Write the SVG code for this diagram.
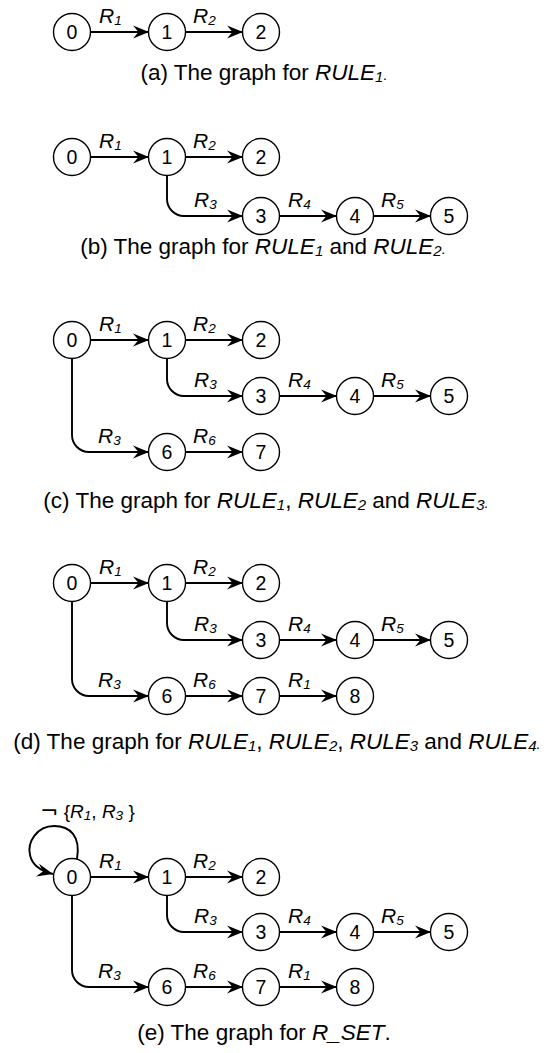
<svg xmlns="http://www.w3.org/2000/svg" width="553" height="1053" viewBox="0 0 553 1053">
<style>
.n circle{fill:#fff;stroke:#000;stroke-width:1.4}
.n text{font-family:"Liberation Sans",Arial,sans-serif;font-size:19.5px;text-anchor:middle}
.e{fill:none;stroke:#000;stroke-width:1.9;marker-end:url(#ah)}
.l{font-family:"Liberation Sans",Arial,sans-serif;font-size:21px;font-style:italic}
.s{font-size:13.5px}
.cap{font-family:"Liberation Sans",Arial,sans-serif;font-size:22.5px;text-anchor:middle}
.i{font-style:italic}
.cs{font-size:15px;font-style:italic}
</style>
<defs>
<marker id="ah" viewBox="-17 -7 18 14" refX="0" refY="0" markerWidth="18" markerHeight="14" markerUnits="userSpaceOnUse" orient="auto">
<path d="M0,0 L-16,-6.5 L-10.5,0 L-16,6.5 Z" fill="#000"/>
</marker>
</defs>

<!-- (a) -->
<g id="fig-a">
<g id="connectors-a">
<path class="e" d="M90,32 H149"/>
<path class="e" d="M185,32 H243"/>
<text class="l" x="99" y="23">R<tspan class="s" dy="2">1</tspan></text>
<text class="l" x="193" y="23">R<tspan class="s" dy="2">2</tspan></text>
</g>
<g id="a0" class="n"><circle cx="72" cy="32" r="18.5"/><text x="72" y="39">0</text></g>
<g id="a1" class="n"><circle cx="167" cy="32" r="18.5"/><text x="167" y="39">1</text></g>
<g id="a2" class="n"><circle cx="261" cy="32" r="18.5"/><text x="261" y="39">2</text></g>
<text class="cap" x="264" y="80">(a) The graph for <tspan class="i">RULE</tspan><tspan class="cs" dy="2">1</tspan><tspan class="cs" dy="-2">.</tspan></text>
</g>

<!-- (b) -->
<g id="fig-b">
<g id="connectors-b">
<path class="e" d="M90,157 H149"/>
<path class="e" d="M185,157 H243"/>
<path class="e" d="M167,175 V199 A17,17 0 0 0 184,216 H243"/>
<path class="e" d="M279,216 H337"/>
<path class="e" d="M373,216 H431"/>
<text class="l" x="99" y="148">R<tspan class="s" dy="2">1</tspan></text>
<text class="l" x="193" y="148">R<tspan class="s" dy="2">2</tspan></text>
<text class="l" x="194" y="207">R<tspan class="s" dy="2">3</tspan></text>
<text class="l" x="288" y="207">R<tspan class="s" dy="2">4</tspan></text>
<text class="l" x="381" y="207">R<tspan class="s" dy="2">5</tspan></text>
</g>
<g id="b0" class="n"><circle cx="72" cy="157" r="18.5"/><text x="72" y="164">0</text></g>
<g id="b1" class="n"><circle cx="167" cy="157" r="18.5"/><text x="167" y="164">1</text></g>
<g id="b2" class="n"><circle cx="261" cy="157" r="18.5"/><text x="261" y="164">2</text></g>
<g id="b3" class="n"><circle cx="261" cy="216" r="18.5"/><text x="261" y="223">3</text></g>
<g id="b4" class="n"><circle cx="355" cy="216" r="18.5"/><text x="355" y="223">4</text></g>
<g id="b5" class="n"><circle cx="449" cy="216" r="18.5"/><text x="449" y="223">5</text></g>
<text class="cap" x="263" y="254">(b) The graph for <tspan class="i">RULE</tspan><tspan class="cs" dy="2">1</tspan><tspan dy="-2"> and </tspan><tspan class="i">RULE</tspan><tspan class="cs" dy="2">2</tspan><tspan class="cs" dy="-2">.</tspan></text>
</g>

<!-- (c) -->
<g id="fig-c">
<g id="connectors-c">
<path class="e" d="M90,340 H149"/>
<path class="e" d="M185,340 H243"/>
<path class="e" d="M167,358 V379 A17,17 0 0 0 184,396 H243"/>
<path class="e" d="M279,396 H337"/>
<path class="e" d="M373,396 H431"/>
<path class="e" d="M72,358 V435 A17,17 0 0 0 89,452 H149"/>
<path class="e" d="M185,452 H243"/>
<text class="l" x="99" y="331">R<tspan class="s" dy="2">1</tspan></text>
<text class="l" x="193" y="331">R<tspan class="s" dy="2">2</tspan></text>
<text class="l" x="194" y="387">R<tspan class="s" dy="2">3</tspan></text>
<text class="l" x="288" y="387">R<tspan class="s" dy="2">4</tspan></text>
<text class="l" x="381" y="387">R<tspan class="s" dy="2">5</tspan></text>
<text class="l" x="98" y="443">R<tspan class="s" dy="2">3</tspan></text>
<text class="l" x="193" y="443">R<tspan class="s" dy="2">6</tspan></text>
</g>
<g id="c0" class="n"><circle cx="72" cy="340" r="18.5"/><text x="72" y="347">0</text></g>
<g id="c1" class="n"><circle cx="167" cy="340" r="18.5"/><text x="167" y="347">1</text></g>
<g id="c2" class="n"><circle cx="261" cy="340" r="18.5"/><text x="261" y="347">2</text></g>
<g id="c3" class="n"><circle cx="261" cy="396" r="18.5"/><text x="261" y="403">3</text></g>
<g id="c4" class="n"><circle cx="355" cy="396" r="18.5"/><text x="355" y="403">4</text></g>
<g id="c5" class="n"><circle cx="449" cy="396" r="18.5"/><text x="449" y="403">5</text></g>
<g id="c6" class="n"><circle cx="167" cy="452" r="18.5"/><text x="167" y="459">6</text></g>
<g id="c7" class="n"><circle cx="261" cy="452" r="18.5"/><text x="261" y="459">7</text></g>
<text class="cap" x="266" y="508">(c) The graph for <tspan class="i">RULE</tspan><tspan class="cs" dy="2">1</tspan><tspan dy="-2">, </tspan><tspan class="i">RULE</tspan><tspan class="cs" dy="2">2</tspan><tspan dy="-2"> and </tspan><tspan class="i">RULE</tspan><tspan class="cs" dy="2">3</tspan><tspan class="cs" dy="-2">.</tspan></text>
</g>

<!-- (d) -->
<g id="fig-d">
<g id="connectors-d">
<path class="e" d="M90,583 H149"/>
<path class="e" d="M185,583 H243"/>
<path class="e" d="M167,601 V623 A17,17 0 0 0 184,640 H243"/>
<path class="e" d="M279,640 H337"/>
<path class="e" d="M373,640 H431"/>
<path class="e" d="M72,601 V679 A17,17 0 0 0 89,696 H149"/>
<path class="e" d="M185,696 H243"/>
<path class="e" d="M279,696 H337"/>
<text class="l" x="99" y="574">R<tspan class="s" dy="2">1</tspan></text>
<text class="l" x="193" y="574">R<tspan class="s" dy="2">2</tspan></text>
<text class="l" x="194" y="631">R<tspan class="s" dy="2">3</tspan></text>
<text class="l" x="288" y="631">R<tspan class="s" dy="2">4</tspan></text>
<text class="l" x="381" y="631">R<tspan class="s" dy="2">5</tspan></text>
<text class="l" x="98" y="687">R<tspan class="s" dy="2">3</tspan></text>
<text class="l" x="193" y="687">R<tspan class="s" dy="2">6</tspan></text>
<text class="l" x="288" y="687">R<tspan class="s" dy="2">1</tspan></text>
</g>
<g id="d0" class="n"><circle cx="72" cy="583" r="18.5"/><text x="72" y="590">0</text></g>
<g id="d1" class="n"><circle cx="167" cy="583" r="18.5"/><text x="167" y="590">1</text></g>
<g id="d2" class="n"><circle cx="261" cy="583" r="18.5"/><text x="261" y="590">2</text></g>
<g id="d3" class="n"><circle cx="261" cy="640" r="18.5"/><text x="261" y="647">3</text></g>
<g id="d4" class="n"><circle cx="355" cy="640" r="18.5"/><text x="355" y="647">4</text></g>
<g id="d5" class="n"><circle cx="449" cy="640" r="18.5"/><text x="449" y="647">5</text></g>
<g id="d6" class="n"><circle cx="167" cy="696" r="18.5"/><text x="167" y="703">6</text></g>
<g id="d7" class="n"><circle cx="261" cy="696" r="18.5"/><text x="261" y="703">7</text></g>
<g id="d8" class="n"><circle cx="355" cy="696" r="18.5"/><text x="355" y="703">8</text></g>
<text class="cap" x="277" y="749">(d) The graph for <tspan class="i">RULE</tspan><tspan class="cs" dy="2">1</tspan><tspan dy="-2">, </tspan><tspan class="i">RULE</tspan><tspan class="cs" dy="2">2</tspan><tspan dy="-2">, </tspan><tspan class="i">RULE</tspan><tspan class="cs" dy="2">3</tspan><tspan dy="-2"> and </tspan><tspan class="i">RULE</tspan><tspan class="cs" dy="2">4</tspan><tspan class="cs" dy="-2">.</tspan></text>
</g>

<!-- (e) -->
<g id="fig-e">
<g id="connectors-e">
<path class="e" d="M77,859 C81,836 70,826 54,826 C37,826 27,842 30,855 C32,865 41,871 53,874"/>
<path class="e" d="M90,877 H149"/>
<path class="e" d="M185,877 H243"/>
<path class="e" d="M167,895 V915 A17,17 0 0 0 184,932 H243"/>
<path class="e" d="M279,932 H337"/>
<path class="e" d="M373,932 H431"/>
<path class="e" d="M72,895 V970 A17,17 0 0 0 89,987 H149"/>
<path class="e" d="M185,987 H243"/>
<path class="e" d="M279,987 H337"/>
<text x="40" y="818" style="font-family:'Liberation Sans',Arial,sans-serif;font-size:19px"><tspan style="font-family:'DejaVu Sans',sans-serif;font-size:22px">¬</tspan> {<tspan class="i">R</tspan><tspan class="s i" dy="2">1</tspan><tspan dy="-2">, </tspan><tspan class="i">R</tspan><tspan class="s i" dy="2">3</tspan><tspan dy="-2"> }</tspan></text>
<text class="l" x="99" y="868">R<tspan class="s" dy="2">1</tspan></text>
<text class="l" x="193" y="868">R<tspan class="s" dy="2">2</tspan></text>
<text class="l" x="194" y="923">R<tspan class="s" dy="2">3</tspan></text>
<text class="l" x="288" y="923">R<tspan class="s" dy="2">4</tspan></text>
<text class="l" x="381" y="923">R<tspan class="s" dy="2">5</tspan></text>
<text class="l" x="98" y="978">R<tspan class="s" dy="2">3</tspan></text>
<text class="l" x="193" y="978">R<tspan class="s" dy="2">6</tspan></text>
<text class="l" x="288" y="978">R<tspan class="s" dy="2">1</tspan></text>
</g>
<g id="e0" class="n"><circle cx="72" cy="877" r="18.5"/><text x="72" y="884">0</text></g>
<g id="e1" class="n"><circle cx="167" cy="877" r="18.5"/><text x="167" y="884">1</text></g>
<g id="e2" class="n"><circle cx="261" cy="877" r="18.5"/><text x="261" y="884">2</text></g>
<g id="e3" class="n"><circle cx="261" cy="932" r="18.5"/><text x="261" y="939">3</text></g>
<g id="e4" class="n"><circle cx="355" cy="932" r="18.5"/><text x="355" y="939">4</text></g>
<g id="e5" class="n"><circle cx="449" cy="932" r="18.5"/><text x="449" y="939">5</text></g>
<g id="e6" class="n"><circle cx="167" cy="987" r="18.5"/><text x="167" y="994">6</text></g>
<g id="e7" class="n"><circle cx="261" cy="987" r="18.5"/><text x="261" y="994">7</text></g>
<g id="e8" class="n"><circle cx="355" cy="987" r="18.5"/><text x="355" y="994">8</text></g>
<text class="cap" x="264" y="1040">(e) The graph for <tspan class="i">R_SET</tspan>.</text>
</g>
</svg>
